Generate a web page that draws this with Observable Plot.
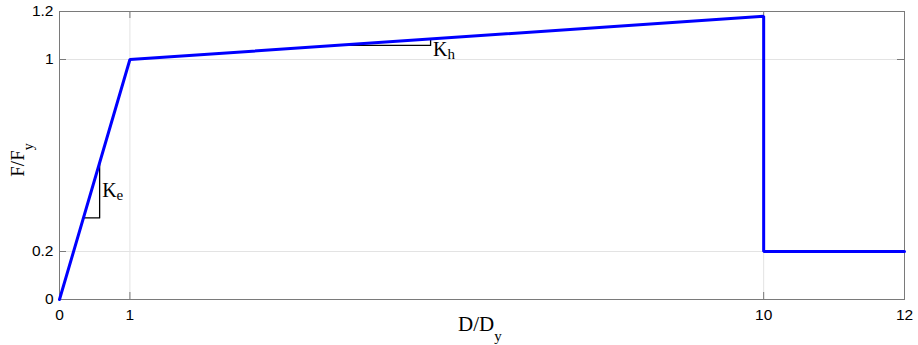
<!DOCTYPE html>
<html>
<head>
<meta charset="utf-8">
<script src="https://cdn.jsdelivr.net/npm/d3@7"></script>
<script src="https://cdn.jsdelivr.net/npm/@observablehq/plot@0.6"></script>
<style>
  body { margin: 0; background: #fff; }
  svg { display: block; }
</style>
</head>
<body>
<div id="chart"></div>
<script>
// Normalised force–displacement backbone (D/Dy, F/Fy)
const dispX = [0, 1, 10, 10, 12];
const forceY = [0, 1, 1.18, 0.2, 0.2];

// Axis ticks
const xTicks = [0, 1, 10, 12];
const yTicks = [0, 0.2, 1, 1.2];

// Slope triangles: elastic stiffness Ke and hardening stiffness Kh
const keX = [0.34, 0.57, 0.57];
const keY = [0.34, 0.34, 0.57];
const khX = [3.93, 5.27, 5.27];
const khY = [1.0587, 1.0587, 1.0853];

const backbone = dispX.map((x, i) => ({x, y: forceY[i]}));
const keTri = keX.map((x, i) => ({x, y: keY[i]}));
const khTri = khX.map((x, i) => ({x, y: khY[i]}));

const W = 918, H = 345;
const mL = 59, mR = 14, mT = 11, mB = 46;
const innerW = W - mL - mR, innerH = H - mT - mB;
const axisGray = "#7a7a7a";
const tick = 7;
const fmt = d => String(d);

const plot = Plot.plot({
  width: W,
  height: H,
  marginLeft: mL,
  marginRight: mR,
  marginTop: mT,
  marginBottom: mB,
  x: {domain: [0, 12]},
  y: {domain: [0, 1.2]},
  style: {
    fontFamily: "'Liberation Sans', Arial, sans-serif",
    fontSize: "15.5px",
    color: "#000",
    background: "#fff"
  },
  marks: [
    Plot.gridX({ticks: xTicks, stroke: "#e3e3e3", strokeOpacity: 1}),
    Plot.gridY({ticks: yTicks, stroke: "#e3e3e3", strokeOpacity: 1}),
    // tick labels
    Plot.axisX({ticks: xTicks, tickSize: 0, tickPadding: 9, tickFormat: fmt, label: null, fill: "#000"}),
    Plot.axisY({ticks: yTicks, tickSize: 0, tickPadding: 6, tickFormat: fmt, label: null, fill: "#000"}),
    // inward tick marks on all four sides
    Plot.ruleX(xTicks, {x: d => d, insetTop: innerH - tick, stroke: axisGray}),
    Plot.ruleX(xTicks, {x: d => d, insetBottom: innerH - tick, stroke: axisGray}),
    Plot.ruleY(yTicks, {y: d => d, insetRight: innerW - tick, stroke: axisGray}),
    Plot.ruleY(yTicks, {y: d => d, insetLeft: innerW - tick, stroke: axisGray}),
    Plot.frame({stroke: axisGray}),
    Plot.line(keTri, {x: "x", y: "y", stroke: "#000", strokeWidth: 1.3}),
    Plot.line(khTri, {x: "x", y: "y", stroke: "#000", strokeWidth: 1.3}),
    Plot.line(backbone, {x: "x", y: "y", stroke: "#0000ff", strokeWidth: 3, strokeLinejoin: "miter"})
  ]
});

document.getElementById("chart").append(plot);

// Serif labels with subscripts
const sx = plot.scale("x");
const sy = plot.scale("y");
const svg = d3.select(plot);
const serif = "'Liberation Serif', 'Times New Roman', serif";

function subLabel(x, y, main, sub, size, subSize, shift, rotate) {
  const t = svg.append("text")
    .attr("font-family", serif)
    .attr("font-size", size)
    .attr("fill", "#000")
    .attr("text-anchor", rotate ? "middle" : "start");
  if (rotate) t.attr("transform", `translate(${x},${y}) rotate(-90)`);
  else t.attr("x", x).attr("y", y);
  t.append("tspan").text(main);
  t.append("tspan").attr("font-size", subSize).attr("dy", shift).text(sub);
  return t;
}

subLabel(sx.apply(0.57) + 3, sy.apply((keY[0] + keY[2]) / 2) + 7, "K", "e", 20, 15, 3, false);
subLabel(sx.apply(5.27) + 3, sy.apply(khY[0]) + 11, "K", "h", 20, 15, 3, false);

// axis titles
subLabel(458, 331, "D/D", "y", 21, 15, 10, false);
subLabel(24, 160, "F/F", "y", 19, 14, 9, true);
</script>
</body>
</html>
